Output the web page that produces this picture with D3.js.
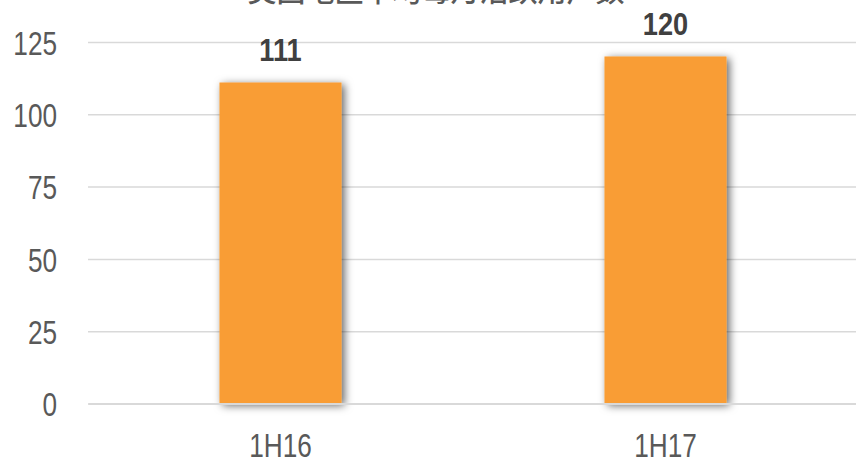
<!DOCTYPE html>
<html>
<head>
<meta charset="utf-8">
<script src="https://cdn.jsdelivr.net/npm/d3@7"></script>
<style>
  body { margin: 0; background: #fff; }
  svg text { font-family: "Liberation Sans", Arial, sans-serif; }
</style>
</head>
<body>
<div class="chart"></div>
<script>
// data
let categories = ['1H16', '1H17']
let values = [111, 120]
let yTicks = [0, 25, 50, 75, 100, 125]
let title = '美国地区平均每月活跃用户数'

let svgWidth = 856
let svgHeight = 461

let margin = { left: 88, right: -2, top: 42, bottom: 57.5 }
let width = svgWidth - margin.left - margin.right
let height = svgHeight - margin.top - margin.bottom

// narrow look: squeeze the text horizontally
let squeeze = 0.77
let squeezeBold = 0.85

let root = d3.select('.chart')
    .append('svg')
    .attr('width', svgWidth)
    .attr('height', svgHeight)

// bar shadow
let filter = root.append('defs').append('filter')
    .attr('id', 'shadow')
    .attr('x', '-30%').attr('y', '-30%')
    .attr('width', '160%').attr('height', '160%')
filter.append('feDropShadow')
    .attr('dx', 3).attr('dy', 2)
    .attr('stdDeviation', 4)
    .attr('flood-color', '#000')
    .attr('flood-opacity', 0.6)

// title (mostly cut off at top)
root.append('text')
    .attr('x', 436)
    .attr('y', 2)
    .attr('text-anchor', 'middle')
    .style('font-family', '"Noto Sans CJK SC", sans-serif')
    .style('font-size', '29px')
    .style('font-weight', '500')
    .attr('fill', '#595959')
    .text(title)

let svg = root.append('g')
    .attr('transform', `translate(${margin.left},${margin.top})`)

let xScale = d3.scaleBand()
    .domain(categories)
    .range([0, width])
    .paddingInner(0.683)
    .paddingOuter(0.3415)

let yScale = d3.scaleLinear()
    .domain([0, 125])
    .range([height, 0])

// gridlines
let yAxis = d3.axisLeft(yScale)
    .tickValues(yTicks)
    .tickSize(-width)
    .tickPadding(31)

let gy = svg.append('g').call(yAxis)
gy.select('.domain').remove()
gy.selectAll('.tick line')
    .attr('stroke', '#d9d9d9')
    .attr('stroke-width', 1.5)
gy.selectAll('.tick text')
    .attr('x', -31 / squeeze)
    .attr('dy', '0.36em')
    .attr('transform', `scale(${squeeze},1)`)
    .attr('fill', '#595959')
    .style('font-size', '34px')

// bars
svg.selectAll('.bar')
    .data(values)
    .join('rect')
    .attr('class', 'bar')
    .attr('x', (d, i) => xScale(categories[i]))
    .attr('y', d => yScale(d))
    .attr('width', xScale.bandwidth())
    .attr('height', d => height - yScale(d))
    .attr('fill', '#f99d35')
    .attr('filter', 'url(#shadow)')

// baseline
let xAxis = d3.axisBottom(xScale).tickSize(0)
let gx = svg.append('g')
    .attr('transform', `translate(0,${height})`)
    .call(xAxis)
gx.select('.domain')
    .attr('stroke', '#d9d9d9')
    .attr('stroke-width', 2)
gx.selectAll('.tick text')
    .attr('y', 53.5)
    .attr('dy', 0)
    .attr('transform', `scale(${squeeze},1)`)
    .attr('fill', '#595959')
    .style('font-size', '34px')

// value labels
svg.selectAll('.label')
    .data(values)
    .join('text')
    .attr('class', 'label')
    .attr('x', (d, i) => (xScale(categories[i]) + xScale.bandwidth() / 2) / squeezeBold)
    .attr('y', d => yScale(d) - 21)
    .attr('transform', `scale(${squeezeBold},1)`)
    .attr('text-anchor', 'middle')
    .attr('fill', '#404040')
    .style('font-size', '32px')
    .style('font-weight', 'bold')
    .text(d => d)
</script>
</body>
</html>
